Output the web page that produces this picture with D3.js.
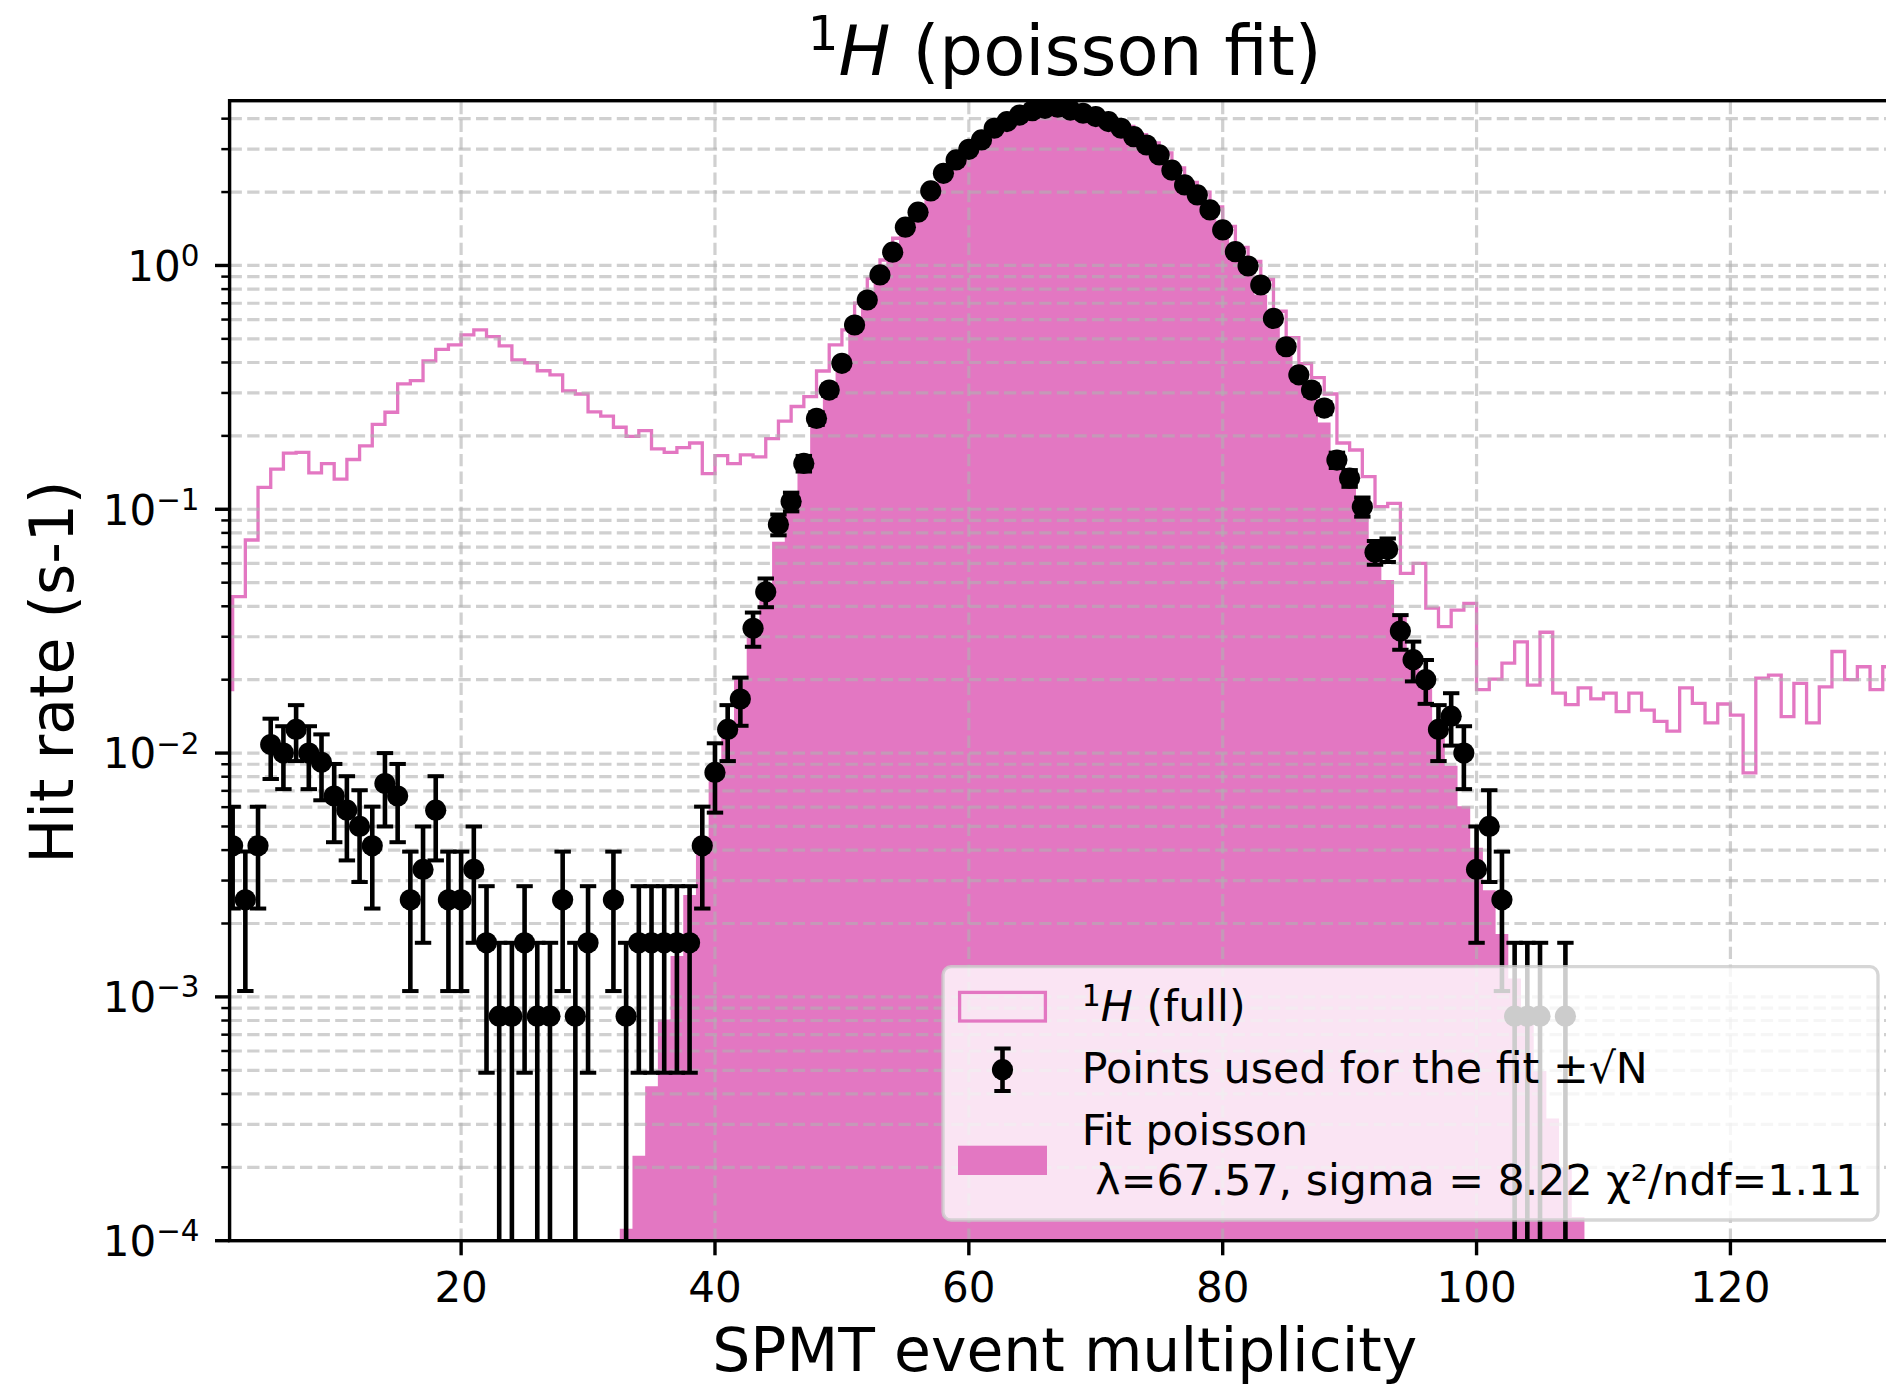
<!DOCTYPE html>
<html>
<head>
<meta charset="utf-8">
<title>1H (poisson fit)</title>
<script src="https://cdn.jsdelivr.net/npm/d3@7/dist/d3.min.js"></script>
<style>
  html, body { margin: 0; padding: 0; background: #ffffff; }
  svg { display: block; }
  text { font-family: "DejaVu Sans", sans-serif; fill: #000; white-space: pre; }
</style>
</head>
<body>
<svg id="chart" width="1886" height="1387"></svg>
<script>
// ---------------- data ----------------
// one counted event corresponds to this rate (s-1)
const rateUnit = 1 / 1200;

// selected events (points used for the fit), counts per multiplicity value
const pointX = [
  2, 3, 4, 5, 6, 7, 8, 9, 10, 11,
  12, 13, 14, 15, 16, 17, 18, 19, 20, 21,
  22, 23, 24, 25, 26, 27, 28, 29, 30, 31,
  32, 33, 34, 35, 36, 37, 38, 39, 40, 41,
  42, 43, 44, 45, 46, 47, 48, 49, 50, 51,
  52, 53, 54, 55, 56, 57, 58, 59, 60, 61,
  62, 63, 64, 65, 66, 67, 68, 69, 70, 71,
  72, 73, 74, 75, 76, 77, 78, 79, 80, 81,
  82, 83, 84, 85, 86, 87, 88, 89, 90, 91,
  92, 93, 94, 95, 96, 97, 98, 99, 100, 101,
  102, 103, 104, 105, 106, 107
];
const pointCounts = [
  5, 3, 5, 13, 12, 15, 12, 11, 8, 7,
  6, 5, 9, 8, 3, 4, 7, 3, 3, 4,
  2, 1, 1, 2, 1, 1, 3, 1, 2, 0,
  3, 1, 2, 2, 2, 2, 2, 5, 10, 15,
  20, 39, 55, 104, 129, 185, 283, 370, 476, 684,
  866, 1097, 1360, 1722, 1984, 2425, 2866, 3250, 3595, 3926,
  4385, 4668, 4968, 5172, 5292, 5352, 5208, 5052, 4896, 4668,
  4385, 4050, 3744, 3408, 2952, 2568, 2335, 2027, 1678, 1367,
  1194, 998, 728, 557, 427, 370, 312, 191, 161, 123,
  80, 82, 38, 29, 24, 15, 17, 12, 4, 6,
  3, 1, 1, 1, 0, 1
];

// full 1H spectrum, unit-wide bins given by their left edge
const fullBinStart = [
  1, 2, 3, 4, 5, 6, 7, 8, 9, 10,
  11, 12, 13, 14, 15, 16, 17, 18, 19, 20,
  21, 22, 23, 24, 25, 26, 27, 28, 29, 30,
  31, 32, 33, 34, 35, 36, 37, 38, 39, 40,
  41, 42, 43, 44, 45, 46, 47, 48, 49, 50,
  51, 52, 53, 54, 55, 56, 57, 58, 59, 60,
  61, 62, 63, 64, 65, 66, 67, 68, 69, 70,
  71, 72, 73, 74, 75, 76, 77, 78, 79, 80,
  81, 82, 83, 84, 85, 86, 87, 88, 89, 90,
  91, 92, 93, 94, 95, 96, 97, 98, 99, 100,
  101, 102, 103, 104, 105, 106, 107, 108, 109, 110,
  111, 112, 113, 114, 115, 116, 117, 118, 119, 120,
  121, 122, 123, 124, 125, 126, 127, 128, 129, 130,
  131, 132, 133
];
const fullRates = [
  0.0182, 0.0438, 0.0748, 0.123, 0.146, 0.170, 0.171, 0.141, 0.154, 0.133,
  0.160, 0.182, 0.223, 0.250, 0.327, 0.337, 0.406, 0.453, 0.472, 0.519,
  0.544, 0.511, 0.468, 0.410, 0.399, 0.370, 0.356, 0.306, 0.297, 0.251,
  0.241, 0.217, 0.199, 0.210, 0.177, 0.171, 0.179, 0.187, 0.140, 0.166,
  0.154, 0.167, 0.164, 0.195, 0.230, 0.264, 0.290, 0.369, 0.472, 0.544,
  0.700, 0.886, 1.053, 1.293, 1.546, 1.760, 2.125, 2.488, 2.805, 3.090,
  3.363, 3.742, 3.975, 4.222, 4.389, 4.487, 4.534, 4.412, 4.280, 4.147,
  3.955, 3.717, 3.436, 3.179, 2.897, 2.515, 2.193, 1.998, 1.739, 1.446,
  1.186, 1.040, 0.876, 0.649, 0.506, 0.396, 0.347, 0.297, 0.187, 0.175,
  0.136, 0.1025, 0.1058, 0.0546, 0.0600, 0.0393, 0.0330, 0.0386, 0.0411, 0.0182,
  0.0201, 0.0234, 0.0286, 0.0190, 0.0313, 0.0176, 0.0158, 0.0185, 0.0167, 0.0176,
  0.0148, 0.0176, 0.0150, 0.0135, 0.0123, 0.0185, 0.0160, 0.0133, 0.0159, 0.0143,
  0.0083, 0.0203, 0.0209, 0.0141, 0.0193, 0.0133, 0.0187, 0.0261, 0.0200, 0.0226,
  0.0182, 0.0226, 0.0200
];

// Poisson fit, one value per multiplicity (bars centred on the value)
const fitX = [
  33, 34, 35, 36, 37, 38, 39, 40, 41, 42,
  43, 44, 45, 46, 47, 48, 49, 50, 51, 52,
  53, 54, 55, 56, 57, 58, 59, 60, 61, 62,
  63, 64, 65, 66, 67, 68, 69, 70, 71, 72,
  73, 74, 75, 76, 77, 78, 79, 80, 81, 82,
  83, 84, 85, 86, 87, 88, 89, 90, 91, 92,
  93, 94, 95, 96, 97, 98, 99, 100, 101, 102,
  103, 104, 105, 106, 107, 108
];
const fitRates = [
  0.000112, 0.000223, 0.000430, 0.000807, 0.001473, 0.00262, 0.00454, 0.00767, 0.01264, 0.02033,
  0.03195, 0.04906, 0.07367, 0.1082, 0.1556, 0.2190, 0.3020, 0.4081, 0.5407, 0.7026,
  0.8958, 1.1209, 1.3771, 1.6616, 1.9697, 2.2947, 2.6280, 2.9596, 3.2784, 3.5729,
  3.8321, 4.0458, 4.2058, 4.3058, 4.3425, 4.3150, 4.2256, 4.0789, 3.8819, 3.6430,
  3.3721, 3.0791, 2.7740, 2.4663, 2.1643, 1.8749, 1.6036, 1.3545, 1.1299, 0.9311,
  0.7580, 0.6097, 0.4847, 0.3808, 0.2958, 0.2271, 0.1724, 0.1295, 0.0961, 0.0706,
  0.0513, 0.0369, 0.0262, 0.0185, 0.0129, 0.00887, 0.00605, 0.00409, 0.00274, 0.00181,
  0.00119, 0.000772, 0.000497, 0.000317, 0.000200, 0.000125
];

const xTickValues = [20, 40, 60, 80, 100, 120];
const yDecades = [1e-4, 1e-3, 1e-2, 1e-1, 1e0];
const yDecadeExponents = ["\u22124", "\u22123", "\u22122", "\u22121", "0"];
const yMinorMultipliers = [2, 3, 4, 5, 6, 7, 8, 9];

// ---------------- layout ----------------
const width = 1886, height = 1387;
const plot = { left: 229.6, right: 1900, top: 100.7, bottom: 1240.7 };
const pink = "#e377c2";
const fontSize = 42;       // tick text
const legendSize = 42.7;   // legend text
const labelSize = 60;      // axis labels
const titleSize = 69;      // title

const x = d3.scaleLinear().domain([1.76, 133.36]).range([plot.left, plot.right]);
const y = d3.scaleLog().domain([1e-4, 4.74]).range([plot.bottom, plot.top]);
const yBase = y(y.domain()[0]);

const svg = d3.select("#chart");
svg.append("rect").attr("width", width).attr("height", height).attr("fill", "#ffffff");

svg.append("defs").append("clipPath").attr("id", "plot-clip")
  .append("rect")
  .attr("x", plot.left).attr("y", plot.top)
  .attr("width", plot.right - plot.left).attr("height", plot.bottom - plot.top);

const inner = svg.append("g").attr("clip-path", "url(#plot-clip)");

// --- Poisson fit: filled bars of unit width ---
const fitSteps = fitX.map((k, i) => ({ edge: k - 0.5, v: fitRates[i] }));
fitSteps.push({ edge: fitX[fitX.length - 1] + 0.5, v: fitRates[fitRates.length - 1] });
inner.append("path")
  .datum(fitSteps)
  .attr("d", d3.area().curve(d3.curveStepAfter)
    .x(d => x(d.edge)).y0(yBase).y1(d => y(d.v)))
  .attr("fill", pink);

// --- full spectrum: step outline ---
const fullSteps = fullBinStart.map((k, i) => ({ edge: k, v: fullRates[i] }));
fullSteps.push({ edge: fullBinStart[fullBinStart.length - 1] + 1, v: fullRates[fullRates.length - 1] });
inner.append("path")
  .datum(fullSteps)
  .attr("d", d3.line().curve(d3.curveStepAfter).x(d => x(d.edge)).y(d => y(d.v)))
  .attr("fill", "none")
  .attr("stroke", pink)
  .attr("stroke-width", 3.3);

// --- grid (major + minor on y, major on x) ---
const yGridValues = [];
yDecades.forEach(d => {
  yGridValues.push(d);
  yMinorMultipliers.forEach(m => {
    const v = d * m;
    if (v <= y.domain()[1]) yGridValues.push(v);
  });
});
const grid = inner.append("g")
  .attr("stroke", "#b0b0b0")
  .attr("stroke-opacity", 0.6)
  .attr("stroke-width", 3.2)
  .attr("stroke-dasharray", "12.3,5.3")
  .attr("fill", "none");
grid.selectAll("line.gy").data(yGridValues).join("line").attr("class", "gy")
  .attr("x1", plot.left).attr("x2", plot.right)
  .attr("y1", d => y(d)).attr("y2", d => y(d));
grid.selectAll("line.gx").data(xTickValues).join("line").attr("class", "gx")
  .attr("x1", d => x(d)).attr("x2", d => x(d))
  .attr("y1", plot.bottom).attr("y2", plot.top);

// --- selected points with sqrt(N) error bars ---
const points = pointX.map((k, i) => {
  const n = pointCounts[i];
  return { x: k, n, rate: n * rateUnit, err: Math.sqrt(n) * rateUnit };
}).filter(d => d.n > 0);

const capHalf = 8.2;
const barWidth = 4.6;
const capWidth = 4.0;
const markerR = 10.6;
const eb = inner.append("g").attr("stroke", "#000").attr("fill", "#000");
eb.selectAll("line.bar").data(points).join("line").attr("class", "bar")
  .attr("x1", d => x(d.x)).attr("x2", d => x(d.x))
  .attr("y1", d => d.rate - d.err > 0 ? y(d.rate - d.err) : plot.bottom + 20)
  .attr("y2", d => y(d.rate + d.err))
  .attr("stroke-width", barWidth);
eb.selectAll("line.capHi").data(points).join("line").attr("class", "capHi")
  .attr("x1", d => x(d.x) - capHalf).attr("x2", d => x(d.x) + capHalf)
  .attr("y1", d => y(d.rate + d.err)).attr("y2", d => y(d.rate + d.err))
  .attr("stroke-width", capWidth);
eb.selectAll("line.capLo").data(points.filter(d => d.rate - d.err > 0)).join("line").attr("class", "capLo")
  .attr("x1", d => x(d.x) - capHalf).attr("x2", d => x(d.x) + capHalf)
  .attr("y1", d => y(d.rate - d.err)).attr("y2", d => y(d.rate - d.err))
  .attr("stroke-width", capWidth);
eb.selectAll("circle").data(points).join("circle")
  .attr("cx", d => x(d.x)).attr("cy", d => y(d.rate)).attr("r", markerR)
  .attr("stroke", "none");

// --- spines ---
const spines = svg.append("g").attr("stroke", "#000").attr("stroke-width", 3.4).attr("fill", "none");
spines.append("rect")
  .attr("x", plot.left).attr("y", plot.top)
  .attr("width", plot.right - plot.left).attr("height", plot.bottom - plot.top);

// --- x ticks ---
const xAxisG = svg.append("g");
xAxisG.selectAll("line").data(xTickValues).join("line")
  .attr("x1", d => x(d)).attr("x2", d => x(d))
  .attr("y1", plot.bottom).attr("y2", plot.bottom + 14.6)
  .attr("stroke", "#000").attr("stroke-width", 3.4);
xAxisG.selectAll("text").data(xTickValues).join("text")
  .attr("x", d => x(d)).attr("y", plot.bottom + 61.5)
  .attr("text-anchor", "middle")
  .attr("font-size", fontSize)
  .text(d => d);

// --- y ticks (log) ---
const yAxisG = svg.append("g");
const yMinorValues = yGridValues.filter(v => !yDecades.includes(v));
yAxisG.selectAll("line.major").data(yDecades).join("line").attr("class", "major")
  .attr("x1", plot.left - 14.6).attr("x2", plot.left)
  .attr("y1", d => y(d)).attr("y2", d => y(d))
  .attr("stroke", "#000").attr("stroke-width", 3.4);
yAxisG.selectAll("line.minor").data(yMinorValues).join("line").attr("class", "minor")
  .attr("x1", plot.left - 8.3).attr("x2", plot.left)
  .attr("y1", d => y(d)).attr("y2", d => y(d))
  .attr("stroke", "#000").attr("stroke-width", 2.5);
const yLabels = yAxisG.selectAll("text").data(yDecades).join("text")
  .attr("x", 199.5).attr("y", d => y(d) + 15.3)
  .attr("text-anchor", "end")
  .attr("font-size", fontSize);
yLabels.append("tspan").text("10");
yLabels.append("tspan")
  .attr("font-size", fontSize * 0.7)
  .attr("dy", -14.8)
  .text((d, i) => yDecadeExponents[i]);

// --- axis labels and title ---
svg.append("text")
  .attr("x", (plot.left + plot.right) / 2).attr("y", 1371)
  .attr("text-anchor", "middle")
  .attr("font-size", labelSize)
  .text("SPMT event multiplicity");

svg.append("text")
  .attr("transform", `translate(73,${(plot.top + plot.bottom) / 2 + 1.5}) rotate(-90)`)
  .attr("text-anchor", "middle")
  .attr("font-size", labelSize)
  .text("Hit rate (s-1)");

const title = svg.append("text")
  .attr("x", (plot.left + plot.right) / 2).attr("y", 75)
  .attr("text-anchor", "middle")
  .attr("font-size", titleSize);
title.append("tspan").attr("font-size", titleSize * 0.7).attr("dy", -25).text("1");
title.append("tspan").attr("font-style", "italic").attr("dy", 25).text("H");
title.append("tspan").text(" (poisson fit)");

// --- legend ---
const lg = svg.append("g");
lg.append("rect")
  .attr("x", 943).attr("y", 966.7).attr("width", 935).attr("height", 253.3).attr("rx", 8)
  .attr("fill", "#ffffff").attr("fill-opacity", 0.8)
  .attr("stroke", "#cccccc").attr("stroke-opacity", 0.8).attr("stroke-width", 3.3);

const handleX0 = 959.6, handleX1 = 1045.4, textX = 1081.8;

// entry 1: step outline
lg.append("rect")
  .attr("x", handleX0).attr("y", 992.4)
  .attr("width", handleX1 - handleX0).attr("height", 28.6)
  .attr("fill", "none").attr("stroke", pink).attr("stroke-width", 3.3);
const t1 = lg.append("text").attr("x", textX).attr("y", 1021).attr("font-size", legendSize);
t1.append("tspan").attr("font-size", legendSize * 0.7).attr("dy", -15).text("1");
t1.append("tspan").attr("font-style", "italic").attr("dy", 15).text("H");
t1.append("tspan").text(" (full)");

// entry 2: error bar marker
const hx = (handleX0 + handleX1) / 2;
lg.append("line").attr("x1", hx).attr("x2", hx).attr("y1", 1048.5).attr("y2", 1091)
  .attr("stroke", "#000").attr("stroke-width", barWidth);
[1048.5, 1091].forEach(cy => {
  lg.append("line").attr("x1", hx - capHalf).attr("x2", hx + capHalf)
    .attr("y1", cy).attr("y2", cy).attr("stroke", "#000").attr("stroke-width", capWidth);
});
lg.append("circle").attr("cx", hx).attr("cy", 1069.7).attr("r", markerR).attr("fill", "#000");
lg.append("text").attr("x", textX).attr("y", 1083.3).attr("font-size", legendSize)
  .text("Points used for the fit \u00b1\u221aN");

// entry 3: filled fit
lg.append("rect")
  .attr("x", 958).attr("y", 1145.7).attr("width", 89).attr("height", 29.3)
  .attr("fill", pink);
const t3 = lg.append("text").attr("x", textX).attr("y", 1145).attr("font-size", legendSize);
t3.append("tspan").text("Fit poisson");
t3.append("tspan").attr("x", textX).attr("dy", 49.5)
  .text(" \u03bb=67.57, sigma = 8.22 \u03c7\u00b2/ndf=1.11");
</script>
</body>
</html>
